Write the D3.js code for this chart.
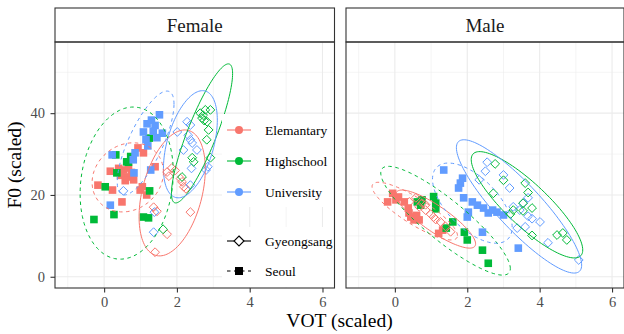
<!DOCTYPE html>
<html>
<head>
<meta charset="utf-8">
<script src="https://cdn.jsdelivr.net/npm/d3@7"></script>
<style>body{margin:0;background:#fff}</style>
</head>
<body>
<svg id="chart" width="624" height="334"></svg>
<script>
const panels = ["Female", "Male"];
const eduLevels = ["Elemantary", "Highschool", "University"];
const dialects = ["Gyeongsang", "Seoul"];
const xTicks = [0, 2, 4, 6];
const xMinor = [-1, 1, 3, 5];
const yTicks = [0, 20, 40];
const yMinor = [10, 30, 50];

// [VOT, F0]
const femElemSeoul = [[0.93,31.5],[1.08,30.3],[0.17,25.8],[-0.17,22.4],[0.23,21.2],[0.49,18.3],[0.53,26.1],[0.62,24.4],[0.67,26.6],[0.81,23.7],[0.99,21.2],[1.17,20.0],[1.40,26.9],[0.45,24.8],[0.58,23.5],[1.05,22.0],[0.75,25.5],[0.40,26.5]];
const femHighSeoul = [[-0.28,14.0],[0.03,22.0],[0.27,15.2],[0.35,25.4],[0.62,28.1],[1.08,14.6],[1.22,14.4],[1.25,21.0],[0.32,29.8],[0.73,29.4],[1.24,33.9],[0.67,28.0]];
const femUnivSeoul = [[1.52,39.6],[1.18,37.4],[1.40,37.0],[1.08,35.4],[1.35,35.6],[1.60,35.1],[1.15,33.5],[1.20,32.0],[0.85,30.3],[0.22,29.8],[0.80,28.6],[0.17,17.5],[0.82,25.4],[1.28,26.1],[1.45,34.0],[1.30,38.3]];
const femElemGyeong = [[1.36,17.0],[1.45,16.0],[1.73,25.6],[1.86,26.6],[1.78,24.6],[2.14,23.2],[2.19,22.0],[2.10,24.0],[2.37,15.8],[1.73,10.4],[1.40,6.0],[1.95,26.0],[2.25,21.5]];
const femUnivGyeong = [[2.28,37.9],[2.37,37.1],[2.01,35.4],[2.31,34.6],[2.37,33.5],[2.42,32.7],[2.18,31.0],[2.55,31.0],[2.80,26.1],[0.53,21.0],[1.38,15.8],[1.36,10.9],[2.40,26.5],[2.37,22.4],[2.85,26.9]];
const femHighGyeong = [[2.64,40.0],[2.78,40.8],[2.92,40.8],[2.69,38.8],[2.83,37.9],[2.72,39.5],[2.87,35.9],[2.82,33.5],[2.92,29.1],[2.42,29.1],[2.46,28.1],[2.14,24.4],[1.62,11.6],[2.75,38.2]];

const malElemSeoul = [[-0.20,18.3],[-0.06,20.4],[0.03,18.8],[0.26,18.3],[0.37,16.8],[0.39,15.6],[0.53,13.9],[0.67,13.9],[0.44,14.6],[1.21,10.6],[1.32,11.4],[0.10,19.5],[0.60,15.0]];
const malHighSeoul = [[0.62,18.3],[0.71,17.5],[0.75,18.8],[1.07,19.6],[1.13,18.0],[1.13,16.6],[1.60,13.4],[1.42,11.9],[1.92,10.9],[2.00,9.0],[2.42,6.5],[2.58,3.3]];
const malUnivSeoul = [[1.35,26.1],[1.87,24.1],[1.81,22.9],[1.76,21.7],[1.90,19.3],[2.14,18.3],[2.28,17.5],[2.45,16.8],[2.03,15.8],[2.00,14.6],[2.58,15.6],[2.82,15.8],[3.00,15.1],[2.42,10.9],[3.41,7.0],[2.70,16.3]];
const malElemGyeong = [[0.40,18.3],[0.58,19.3],[0.67,17.1],[0.85,17.6],[0.85,16.3],[0.99,15.3],[1.07,14.6],[1.13,14.0],[1.26,13.4],[1.54,11.0],[1.40,12.3],[0.75,18.0]];
const malUnivGyeong = [[2.55,28.0],[2.50,25.8],[2.33,23.7],[3.00,24.9],[3.17,21.7],[3.68,19.3],[3.27,17.1],[3.45,16.3],[3.68,14.8],[3.79,14.2],[3.38,11.9],[3.60,12.2],[4.01,13.4],[4.23,8.3],[5.08,4.1],[3.55,18.0]];
const malHighGyeong = [[2.77,27.6],[3.00,23.6],[2.72,20.4],[3.60,22.9],[3.68,20.6],[3.54,18.0],[3.79,16.8],[3.27,16.3],[3.19,15.3],[3.54,16.1],[3.79,10.1],[4.48,10.2],[4.64,10.7],[4.75,9.0]];

// ellipses: [edu, dialect, centre VOT, centre F0, half-range VOT, half-range F0, correlation]
const femEllipses = [
  ["Elemantary", "Gyeongsang", 1.87, 20.5, 0.91, 15.4, 0.38],
  ["Highschool", "Gyeongsang", 2.69, 35.05, 0.84, 17.0, 0.86],
  ["University", "Gyeongsang", 2.37, 32.4, 0.74, 13.1, 0.45],
  ["Elemantary", "Seoul", 0.65, 24.3, 0.98, 8.45, 0.15],
  ["Highschool", "Seoul", 0.62, 22.9, 1.28, 18.6, 0.14],
  ["University", "Seoul", 1.14, 32.7, 0.78, 12.7, 0.75]
];
const malEllipses = [
  ["Elemantary", "Gyeongsang", 1.13, 14.1, 1.10, 7.1, -0.85],
  ["Highschool", "Gyeongsang", 3.65, 17.6, 1.54, 13.0, -0.85],
  ["University", "Gyeongsang", 3.43, 17.2, 1.73, 16.3, -0.88],
  ["Elemantary", "Seoul", 0.55, 16.05, 1.18, 7.05, -0.85],
  ["Highschool", "Seoul", 1.40, 13.7, 1.79, 13.3, -0.88],
  ["University", "Seoul", 2.14, 18.0, 1.10, 9.8, -0.6]
];

const groups = [
  {panel: "Female", edu: "Elemantary", dialect: "Seoul", pts: femElemSeoul},
  {panel: "Female", edu: "Highschool", dialect: "Seoul", pts: femHighSeoul},
  {panel: "Female", edu: "University", dialect: "Seoul", pts: femUnivSeoul},
  {panel: "Female", edu: "Elemantary", dialect: "Gyeongsang", pts: femElemGyeong},
  {panel: "Female", edu: "University", dialect: "Gyeongsang", pts: femUnivGyeong},
  {panel: "Female", edu: "Highschool", dialect: "Gyeongsang", pts: femHighGyeong},
  {panel: "Male", edu: "Elemantary", dialect: "Seoul", pts: malElemSeoul},
  {panel: "Male", edu: "Highschool", dialect: "Seoul", pts: malHighSeoul},
  {panel: "Male", edu: "University", dialect: "Seoul", pts: malUnivSeoul},
  {panel: "Male", edu: "Elemantary", dialect: "Gyeongsang", pts: malElemGyeong},
  {panel: "Male", edu: "University", dialect: "Gyeongsang", pts: malUnivGyeong},
  {panel: "Male", edu: "Highschool", dialect: "Gyeongsang", pts: malHighGyeong}
];
const ellipses = {Female: femEllipses, Male: malEllipses};

const FONT = '"Liberation Serif", "Times New Roman", serif';
const color = d3.scaleOrdinal().domain(eduLevels).range(["#F8766D", "#00BA38", "#619CFF"]);
const dash = {Gyeongsang: null, Seoul: "3.5,3.5"};

const pTop = 42, pBottom = 288, stripTop = 8;
const panelX = {Female: [55, 334.5], Male: [346, 624]};

const svg = d3.select("#chart");
svg.append("rect").attr("width", 624).attr("height", 334).attr("fill", "#fff");

const y = d3.scaleLinear().domain([-2.75, 57.4]).range([pBottom, pTop]);

const diamond = h => `M0,${-h}L${h},0L0,${h}L${-h},0Z`;

panels.forEach((p, i) => {
  const [x0, x1] = panelX[p];
  const x = d3.scaleLinear().domain([-1.35, 6.33]).range([x0, x1]);
  const g = svg.append("g");

  svg.append("clipPath").attr("id", "clip" + i)
    .append("rect").attr("x", x0).attr("y", pTop).attr("width", x1 - x0).attr("height", pBottom - pTop);

  // grid
  g.selectAll(".vmin").data(xMinor).enter().append("line")
    .attr("x1", d => x(d)).attr("x2", d => x(d)).attr("y1", pTop).attr("y2", pBottom)
    .attr("stroke", "#EBEBEB").attr("stroke-width", 0.55);
  g.selectAll(".hmin").data(yMinor).enter().append("line")
    .attr("x1", x0).attr("x2", x1).attr("y1", d => y(d)).attr("y2", d => y(d))
    .attr("stroke", "#EBEBEB").attr("stroke-width", 0.55);
  g.selectAll(".vmaj").data(xTicks).enter().append("line")
    .attr("x1", d => x(d)).attr("x2", d => x(d)).attr("y1", pTop).attr("y2", pBottom)
    .attr("stroke", "#EBEBEB").attr("stroke-width", 1.1);
  g.selectAll(".hmaj").data(yTicks).enter().append("line")
    .attr("x1", x0).attr("x2", x1).attr("y1", d => y(d)).attr("y2", d => y(d))
    .attr("stroke", "#EBEBEB").attr("stroke-width", 1.1);

  const plot = g.append("g").attr("clip-path", `url(#clip${i})`);

  // points
  groups.filter(d => d.panel === p).forEach(grp => {
    const c = color(grp.edu);
    if (grp.dialect === "Seoul") {
      plot.selectAll(null).data(grp.pts).enter().append("rect")
        .attr("x", d => x(d[0]) - 3.8).attr("y", d => y(d[1]) - 3.8)
        .attr("width", 7.6).attr("height", 7.6).attr("fill", c);
    } else {
      plot.selectAll(null).data(grp.pts).enter().append("path")
        .attr("d", diamond(4.4))
        .attr("transform", d => `translate(${x(d[0])},${y(d[1])})`)
        .attr("fill", "none").attr("stroke", c).attr("stroke-width", 1);
    }
  });

  // ellipses
  const ts = d3.range(0, 2 * Math.PI, Math.PI / 60);
  const line = d3.line().x(d => x(d[0])).y(d => y(d[1])).curve(d3.curveLinearClosed);
  ellipses[p].forEach(e => {
    const [edu, dia, cx, cy, sx, sy, r] = e;
    const phi = Math.acos(r);
    const pts = ts.map(t => [cx + sx * Math.cos(t), cy + sy * Math.cos(t - phi)]);
    plot.append("path").attr("d", line(pts))
      .attr("fill", "none").attr("stroke", color(edu)).attr("stroke-width", 1)
      .attr("stroke-dasharray", dash[dia]);
  });

  // x axis
  const xa = svg.append("g").attr("transform", `translate(0,${pBottom})`)
    .call(d3.axisBottom(x).tickValues(xTicks).tickSize(4.5).tickPadding(4).tickFormat(d3.format("d")));
  xa.select(".domain").remove();
  xa.selectAll("line").attr("stroke", "#333333").attr("stroke-width", 1.1);
  xa.selectAll("text").attr("fill", "#4D4D4D").style("font-family", FONT).style("font-size", "14.5px");

  if (i === 0) {
    const ya = svg.append("g").attr("transform", `translate(${x0},0)`)
      .call(d3.axisLeft(y).tickValues(yTicks).tickSize(4.5).tickPadding(5.5));
    ya.select(".domain").remove();
    ya.selectAll("line").attr("stroke", "#333333").attr("stroke-width", 1.1);
    ya.selectAll("text").attr("fill", "#4D4D4D").style("font-family", FONT).style("font-size", "14.5px");
  }

  // strip
  svg.append("rect").attr("x", x0).attr("y", stripTop).attr("width", x1 - x0).attr("height", pTop - stripTop)
    .attr("fill", "#fff").attr("stroke", "#333333").attr("stroke-width", 1.1);
  svg.append("text").attr("x", (x0 + x1) / 2).attr("y", (stripTop + pTop) / 2)
    .attr("text-anchor", "middle").attr("dominant-baseline", "central")
    .style("font-family", FONT).style("font-size", "19px").attr("fill", "#1A1A1A").text(p);
});

// legends inside the Female panel
const leg = svg.append("g");
leg.append("rect").attr("x", 222).attr("y", 114).attr("width", 113).attr("height", 93).attr("fill", "#fff");
leg.append("rect").attr("x", 222).attr("y", 227).attr("width", 113).attr("height", 60).attr("fill", "#fff");

const colorRows = [130, 161, 192];
eduLevels.forEach((e, k) => {
  const yy = colorRows[k];
  leg.append("line").attr("x1", 227).attr("x2", 251).attr("y1", yy).attr("y2", yy)
    .attr("stroke", color(e)).attr("stroke-width", 1.1);
  leg.append("circle").attr("cx", 239).attr("cy", yy).attr("r", 4).attr("fill", color(e));
  leg.append("text").attr("x", 265).attr("y", yy).attr("dominant-baseline", "central")
    .style("font-family", FONT).style("font-size", "13.5px").attr("fill", "#000").text(e);
});
const shapeRows = [241, 271];
dialects.forEach((dname, k) => {
  const yy = shapeRows[k];
  leg.append("line").attr("x1", 227).attr("x2", 251).attr("y1", yy).attr("y2", yy)
    .attr("stroke", "#000").attr("stroke-width", 1.1).attr("stroke-dasharray", dash[dname]);
  if (dname === "Seoul") {
    leg.append("rect").attr("x", 235).attr("y", yy - 4).attr("width", 8).attr("height", 8).attr("fill", "#000");
  } else {
    leg.append("path").attr("d", diamond(5)).attr("transform", `translate(239,${yy})`)
      .attr("fill", "#fff").attr("stroke", "#000").attr("stroke-width", 1.1);
  }
  leg.append("text").attr("x", 265).attr("y", yy).attr("dominant-baseline", "central")
    .style("font-family", FONT).style("font-size", "13.5px").attr("fill", "#000").text(dname);
});

// panel borders
panels.forEach(p => {
  const [x0, x1] = panelX[p];
  svg.append("rect").attr("x", x0).attr("y", pTop).attr("width", x1 - x0).attr("height", pBottom - pTop)
    .attr("fill", "none").attr("stroke", "#333333").attr("stroke-width", 1.1);
});

// axis titles
svg.append("text").attr("x", 339.5).attr("y", 327).attr("text-anchor", "middle")
  .style("font-family", FONT).style("font-size", "19.5px").attr("fill", "#000").text("VOT (scaled)");
svg.append("text").attr("transform", "translate(21,165) rotate(-90)").attr("text-anchor", "middle")
  .style("font-family", FONT).style("font-size", "19.5px").attr("fill", "#000").text("F0 (scaled)");
</script>
</body>
</html>
